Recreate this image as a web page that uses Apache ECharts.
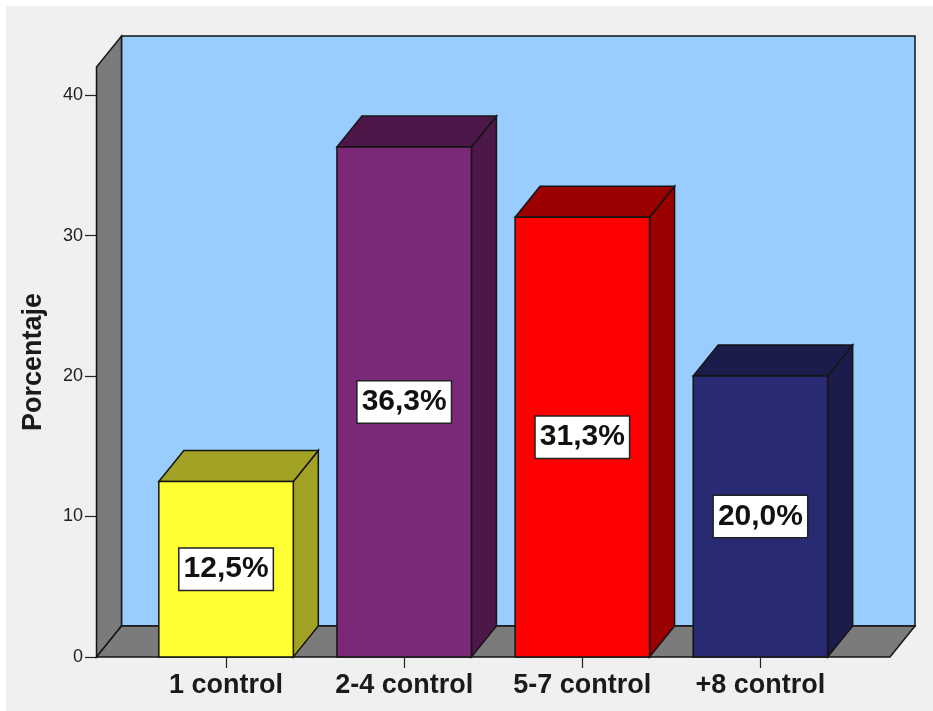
<!DOCTYPE html>
<html>
<head>
<meta charset="utf-8">
<title>Porcentaje por número de controles</title>
<script src="https://cdn.jsdelivr.net/npm/echarts@6/dist/echarts.min.js"></script>
<style>
  html, body { margin: 0; padding: 0; background: #ffffff; }
  #chart { width: 933px; height: 711px; }
</style>
</head>
<body>
<div id="chart"></div>
<script>
// Categories and percentages
const categories = ['1 control', '2-4 control', '5-7 control', '+8 control'];
const percentages = [12.5, 36.3, 31.3, 20.0];
const yTicks = [0, 10, 20, 30, 40];
const yMax = 42;

// Face colours of each box: front, top / side
const frontColors = ['#ffff33', '#7b2879', '#ff0000', '#282a73'];
const shadeColors = ['#a2a224', '#4d1849', '#9b0000', '#1c1c4c'];

// Oblique depth of the pseudo-3D projection
const DX = 25;
const DY = -31;
// How far the floor and walls reach past the outer bars
const EXT = 40.5;
const EDGE = '#151515';

function fmtPct(v) {
  return v.toFixed(1).replace('.', ',') + '%';
}

const chart = echarts.init(document.getElementById('chart'), null, { renderer: 'canvas' });

const option = {
  animation: false,
  backgroundColor: '#ffffff',
  graphic: [{
    type: 'rect',
    z: -10,
    shape: { x: 6, y: 6, width: 927, height: 705 },
    style: { fill: '#f0f0f0' },
    silent: true
  }],
  grid: { left: 137, right: 83.5, top: 67, bottom: 54 },
  xAxis: {
    type: 'category',
    data: categories,
    axisLine: { show: false },
    axisTick: { show: true, interval: 0, alignWithLabel: true, length: 11, lineStyle: { color: '#222', width: 1.2 } },
    axisLabel: {
      interval: 0,
      hideOverlap: false,
      margin: 15,
      fontFamily: 'Arial, "Liberation Sans", sans-serif',
      fontWeight: 'bold',
      fontSize: 27,
      color: '#1a1a1a'
    },
    splitLine: { show: false }
  },
  yAxis: {
    type: 'value',
    min: 0,
    max: yMax,
    interval: 10,
    offset: 40,
    name: 'Porcentaje',
    nameLocation: 'middle',
    nameGap: 50,
    nameTextStyle: {
      fontFamily: 'Arial, "Liberation Sans", sans-serif',
      fontWeight: 'bold',
      fontSize: 27,
      color: '#1a1a1a'
    },
    axisLine: { show: true, lineStyle: { color: EDGE, width: 1.5 } },
    axisTick: { show: true, length: 12, customValues: yTicks, lineStyle: { color: '#222', width: 1.2 } },
    axisLabel: {
      margin: 14,
      customValues: yTicks,
      fontFamily: 'Arial, "Liberation Sans", sans-serif',
      fontSize: 18,
      color: '#222222'
    },
    splitLine: { show: false }
  },
  series: [
    {
      // Back wall, side wall and floor of the box
      type: 'custom',
      z: 1,
      silent: true,
      data: [[0, 0]],
      renderItem: function (params, api) {
        const cs = params.coordSys;
        const x0 = cs.x - EXT;
        const x1 = cs.x + cs.width + EXT;
        const yTop = api.coord([0, yMax])[1];
        const yBot = api.coord([0, 0])[1];
        const wallStyle = { fill: '#7b7b7b', stroke: EDGE, lineWidth: 1.5 };
        return {
          type: 'group',
          children: [
            {
              type: 'rect',
              shape: { x: x0 + DX, y: yTop + DY, width: x1 - x0, height: yBot - yTop },
              style: { fill: '#99ccff', stroke: EDGE, lineWidth: 1.5 }
            },
            {
              type: 'polygon',
              shape: { points: [[x0, yBot], [x0, yTop], [x0 + DX, yTop + DY], [x0 + DX, yBot + DY]] },
              style: wallStyle
            },
            {
              type: 'polygon',
              shape: { points: [[x0, yBot], [x1, yBot], [x1 + DX, yBot + DY], [x0 + DX, yBot + DY]] },
              style: wallStyle
            }
          ]
        };
      }
    },
    {
      // The boxes themselves, with their value tags
      type: 'custom',
      z: 3,
      data: percentages.map(function (v, i) { return [i, v]; }),
      renderItem: function (params, api) {
        const i = api.value(0);
        const v = api.value(1);
        const top = api.coord([i, v]);
        const base = api.coord([i, 0]);
        const w = api.size([1, 0])[0] * 0.755;
        const xl = top[0] - w / 2;
        const xr = top[0] + w / 2;
        const yt = top[1];
        const yb = base[1];
        const front = frontColors[params.dataIndex];
        const shade = shadeColors[params.dataIndex];
        return {
          type: 'group',
          children: [
            {
              type: 'polygon',
              shape: { points: [[xr, yt], [xr + DX, yt + DY], [xr + DX, yb + DY], [xr, yb]] },
              style: { fill: shade, stroke: EDGE, lineWidth: 1.5 }
            },
            {
              type: 'polygon',
              shape: { points: [[xl, yt], [xl + DX, yt + DY], [xr + DX, yt + DY], [xr, yt]] },
              style: { fill: shade, stroke: EDGE, lineWidth: 1.5 }
            },
            {
              type: 'rect',
              shape: { x: xl, y: yt, width: w, height: yb - yt },
              style: { fill: front, stroke: EDGE, lineWidth: 1.5 }
            },
            {
              type: 'text',
              z2: 10,
              style: {
                x: top[0],
                y: (yt + yb) / 2,
                text: fmtPct(v),
                align: 'center',
                verticalAlign: 'middle',
                fontFamily: 'Arial, "Liberation Sans", sans-serif',
                fontWeight: 'bold',
                fontSize: 30,
                fill: '#111111',
                backgroundColor: '#ffffff',
                borderColor: '#222222',
                borderWidth: 1.5,
                padding: [6, 4, 5, 4]
              }
            }
          ]
        };
      }
    }
  ]
};

chart.setOption(option);
</script>
</body>
</html>
